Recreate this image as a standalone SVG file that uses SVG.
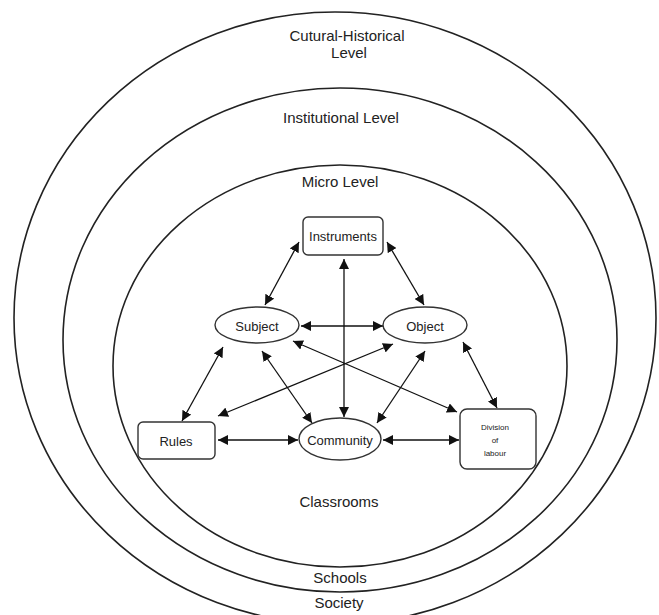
<svg xmlns="http://www.w3.org/2000/svg" width="659" height="615" viewBox="0 0 659 615">
<defs>
<marker id="ah" viewBox="0 0 10 10" refX="10" refY="5" markerWidth="10" markerHeight="10" markerUnits="userSpaceOnUse" orient="auto-start-reverse">
<path d="M0,0 L10,5 L0,10 z" fill="#111"/>
</marker>
<style>
.ring{fill:none;stroke:#222;stroke-width:1.6}
.node{fill:#fff;stroke:#333;stroke-width:1.4}
.lbl{font-family:"Liberation Sans",Arial,sans-serif;font-size:15px;fill:#222;text-anchor:middle}
.nl{font-family:"Liberation Sans",Arial,sans-serif;font-size:13px;fill:#222;text-anchor:middle;dominant-baseline:central}
.sm{font-family:"Liberation Sans",Arial,sans-serif;font-size:8px;fill:#222;text-anchor:middle;dominant-baseline:central}
.c{stroke:#111;stroke-width:1.3;fill:none;marker-start:url(#ah);marker-end:url(#ah)}
</style>
</defs>
<rect width="659" height="615" fill="#fff"/>
<g id="levels">
<ellipse class="ring" cx="335" cy="318" rx="321" ry="306"/>
<ellipse class="ring" cx="340" cy="340" rx="277" ry="252"/>
<ellipse class="ring" cx="340" cy="366" rx="227" ry="201"/>
<text class="lbl" x="347" y="41">Cutural-Historical</text>
<text class="lbl" x="349" y="58">Level</text>
<text class="lbl" x="341" y="123">Institutional Level</text>
<text class="lbl" x="340" y="187">Micro Level</text>
<text class="lbl" x="339" y="507">Classrooms</text>
<text class="lbl" x="340" y="583">Schools</text>
<text class="lbl" x="339" y="608">Society</text>
</g>
<g id="connectors">
<line class="c" x1="299" y1="242" x2="265" y2="305"/>
<line class="c" x1="387" y1="242" x2="424" y2="305"/>
<line class="c" x1="344" y1="259" x2="344" y2="417"/>
<line class="c" x1="301" y1="326" x2="383" y2="326"/>
<line class="c" x1="223" y1="347" x2="182" y2="421"/>
<line class="c" x1="262" y1="351" x2="312" y2="423"/>
<line class="c" x1="293" y1="341" x2="457" y2="412"/>
<line class="c" x1="393" y1="344" x2="218" y2="416"/>
<line class="c" x1="425" y1="351" x2="377" y2="423"/>
<line class="c" x1="463" y1="342" x2="497" y2="408"/>
<line class="c" x1="218" y1="440" x2="298" y2="440"/>
<line class="c" x1="383" y1="440" x2="459" y2="440"/>
</g>
<g id="instruments">
<rect class="node" x="303" y="217" width="80" height="38" rx="5"/>
<text class="nl" x="343" y="236">Instruments</text>
</g>
<g id="subject">
<ellipse class="node" cx="257" cy="325" rx="42" ry="18"/>
<text class="nl" x="257" y="326">Subject</text>
</g>
<g id="object">
<ellipse class="node" cx="425" cy="325" rx="42" ry="18"/>
<text class="nl" x="425" y="326">Object</text>
</g>
<g id="rules">
<rect class="node" x="138" y="422" width="77" height="37" rx="5"/>
<text class="nl" x="176" y="441">Rules</text>
</g>
<g id="community">
<ellipse class="node" cx="340" cy="439" rx="41" ry="21"/>
<text class="nl" x="340" y="440">Community</text>
</g>
<g id="division">
<rect class="node" x="460" y="409" width="76" height="60" rx="7"/>
<text class="sm" x="495" y="427">Division</text>
<text class="sm" x="495" y="440">of</text>
<text class="sm" x="495" y="453">labour</text>
</g>
</svg>
